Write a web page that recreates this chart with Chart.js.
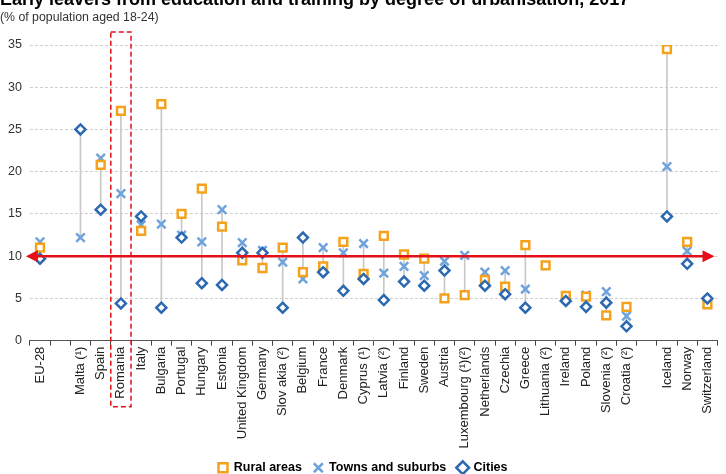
<!DOCTYPE html>
<html>
<head>
<meta charset="utf-8">
<script src="https://cdn.jsdelivr.net/npm/chart.js@4"></script>
<style>
  html, body { margin: 0; padding: 0; background: #fff; }
  #wrap { position: relative; width: 726px; height: 474px; }
</style>
</head>
<body>
<div id="wrap"><canvas id="myChart"></canvas></div>
<script>
const categories = ["EU-28", "", "Malta (¹)", "Spain", "Romania", "Italy", "Bulgaria", "Portugal",
  "Hungary", "Estonia", "United Kingdom", "Germany", "Slov akia (²)", "Belgium", "France", "Denmark",
  "Cyprus (¹)", "Latvia (²)", "Finland", "Sweden", "Austria", "Luxembourg (¹)(²)", "Netherlands",
  "Czechia", "Greece", "Lithuania (²)", "Ireland", "Poland", "Slovenia (²)", "Croatia (²)", "",
  "Iceland", "Norway", "Switzerland"];

const rural = [11.0, null, null, 20.8, 27.2, 13.0, 28.0, 15.0, 18.0, 13.5, 9.5, 8.6, 11.0, 8.1, 8.8, 11.7,
  7.9, 12.4, 10.2, 9.7, 5.0, 5.4, 7.2, 6.4, 11.3, 8.9, 5.3, 5.2, 3.0, 4.0, null, 34.5, 11.7, 4.3];
const towns = [11.7, null, 12.2, 21.6, 17.4, 13.7, 13.8, 12.5, 11.7, 15.5, 11.6, 10.7, 9.3, 7.3, 11.0, 10.4,
  11.5, 8.0, 8.8, 7.7, 9.4, 10.1, 8.1, 8.3, 6.1, null, 5.3, 5.4, 5.8, 2.9, null, 20.6, 10.6, 4.3];
const cities = [9.7, null, 25.0, 15.5, 4.4, 14.7, 3.9, 12.2, 6.8, 6.6, 10.4, 10.4, 3.9, 12.2, 8.1, 5.9,
  7.3, 4.8, 7.0, 6.5, 8.3, null, 6.5, 5.5, 3.9, null, 4.7, 4.0, 4.5, 1.7, null, 14.7, 9.1, 5.0];

const target = 10;
const highlighted = "Romania";

// grey range line from lowest to highest value of each country
const ranges = categories.map((c, i) => {
  const v = [rural[i], towns[i], cities[i]].filter(x => x !== null);
  return v.length > 1 ? [Math.min(...v), Math.max(...v)] : null;
});

const overlay = {
  id: 'overlay',
  afterDatasetsDraw(chart) {
    const { ctx, chartArea, scales: { x, y } } = chart;
    ctx.save();
    // target line with arrows
    const yy = y.getPixelForValue(target);
    const left = chartArea.left - 4, right = chartArea.right - 3;
    ctx.strokeStyle = '#e3101a';
    ctx.fillStyle = '#e3101a';
    ctx.lineWidth = 2.5;
    ctx.beginPath();
    ctx.moveTo(left + 8, yy);
    ctx.lineTo(right - 8, yy);
    ctx.stroke();
    ctx.beginPath();
    ctx.moveTo(left, yy); ctx.lineTo(left + 12, yy - 6); ctx.lineTo(left + 12, yy + 6); ctx.closePath();
    ctx.fill();
    ctx.beginPath();
    ctx.moveTo(right, yy); ctx.lineTo(right - 12, yy - 6); ctx.lineTo(right - 12, yy + 6); ctx.closePath();
    ctx.fill();
    // dashed box round the highlighted country
    const idx = categories.indexOf(highlighted);
    const xc = x.getPixelForValue(idx);
    const half = (x.getPixelForValue(1) - x.getPixelForValue(0)) / 2;
    ctx.setLineDash([5, 3]);
    ctx.lineWidth = 1.5;
    ctx.strokeRect(xc - half, chartArea.top - 13, half * 2, chartArea.bottom - chartArea.top + 79);
    ctx.restore();
  }
};

const titles = {
  id: 'titles',
  afterDraw(chart) {
    const ctx = chart.ctx;
    ctx.save();
    ctx.fillStyle = '#000';
    ctx.font = 'bold 18px Arial, "Liberation Sans"';
    ctx.textBaseline = 'alphabetic';
    ctx.fillText('Early leavers from education and training by degree of urbanisation, 2017', 0, 5);
    ctx.fillStyle = '#333';
    ctx.font = '12.3px Arial, "Liberation Sans"';
    ctx.fillText('(% of population aged 18-24)', 0, 21);
    ctx.restore();
  }
};

new Chart(document.getElementById('myChart'), {
  data: {
    labels: categories,
    datasets: [
      {
        type: 'line', label: 'Rural areas', data: rural, showLine: false,
        pointStyle: 'rect', pointRadius: 5.5, pointBorderWidth: 2.5,
        borderColor: '#f4a21c', backgroundColor: '#ffffff', order: 1
      },
      {
        type: 'line', label: 'Towns and suburbs', data: towns, showLine: false,
        pointStyle: 'crossRot', pointRadius: 6, pointBorderWidth: 2.5,
        borderColor: '#6fa3dc', backgroundColor: '#6fa3dc', order: 2
      },
      {
        type: 'line', label: 'Cities', data: cities, showLine: false,
        pointStyle: 'rectRot', pointRadius: 5, pointBorderWidth: 2.5,
        borderColor: '#2c69b0', backgroundColor: '#ffffff', order: 0
      },
      {
        type: 'bar', label: 'range', data: ranges, barThickness: 1,
        backgroundColor: '#c8c8c8', order: 5
      }
    ]
  },
  options: {
    responsive: true,
    maintainAspectRatio: false,
    animation: false,
    layout: { padding: { top: 45, right: 0, left: 0, bottom: -10 } },
    plugins: {
      tooltip: { enabled: false },
      legend: {
        position: 'bottom',
        labels: {
          usePointStyle: true, boxWidth: 9, boxHeight: 9, padding: 12,
          color: '#000', font: { family: 'Arial', size: 12.5, weight: 'bold' },
          filter: item => item.text !== 'range',
          sort: (a, b) => a.datasetIndex - b.datasetIndex
        }
      }
    },
    scales: {
      x: {
        offset: true,
        grid: { offset: true, drawOnChartArea: false, drawTicks: true, tickLength: 5, color: '#444' },
        border: { display: true, color: '#555' },
        ticks: { maxRotation: 90, minRotation: 90, autoSkip: false, color: '#222', padding: 1,
          font: { family: 'Arial', size: 13 } }
      },
      y: {
        min: 0, max: 35,
        ticks: { stepSize: 5, color: '#333', font: { family: 'Arial', size: 12.5 }, padding: 8 },
        grid: { color: '#cfcfcf', drawTicks: false },
        border: { display: false, dash: [3, 2] }
      }
    }
  },
  plugins: [overlay, titles]
});
</script>
</body>
</html>
